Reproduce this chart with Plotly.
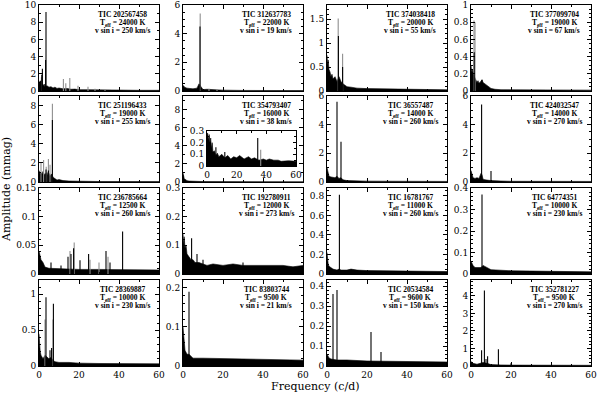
import plotly.graph_objects as go

# panel metadata, row-major order
TIC_IDS = ["202567458", "312637783", "374038418", "377099704",
           "251196433", "354793407", "36557487", "424032547",
           "236785664", "192780911", "16781767", "64774351",
           "28369887", "83803744", "20534584", "352781227"]
TEFF = [24000, 22000, 20000, 19000, 19000, 16000, 14000, 14000,
        12500, 12000, 11000, 10000, 10000, 9500, 9600, 9500]
VSINI = [250, 19, 55, 67, 255, 38, 260, 270, 260, 273, 260, 230, 230, 21, 150, 270]
Y_MAX = [10, 6, 1.8, 1, 9, 9.5, 6, 6, 0.15, 0.3, 0.88, 0.4, 1.2, 0.22, 0.43, 4.9]
Y_DTICK = [2, 2, 0.5, 0.2, 2, 2, 2, 2, 0.05, 0.1, 0.2, 0.1, 0.5, 0.1, 0.1, 1]
Y_MINOR = [1, 0.5, 0.1, 0.05, 1, 1, 0.5, 0.5, 0.01, 0.02, 0.05, 0.02, 0.1, 0.02, 0.02, 0.2]
X_TICKS = [0, 20, 40, 60]

# noise floor (frequency c/d, amplitude mmag) and peaks
p01_noise_f = [0, 0.3, 0.6, 1.0, 1.4, 2.0, 2.6, 3.0, 4.0, 5.0, 6.0, 7.0, 8.0, 9.0, 10, 12, 14, 16, 18, 20, 25, 30, 35, 40, 50, 60]
p01_noise_a = [1.2, 0.9, 1.0, 0.7, 0.9, 0.6, 0.8, 0.5, 0.6, 0.45, 0.5, 0.35, 0.45, 0.3, 0.35, 0.25, 0.3, 0.2, 0.22, 0.15, 0.15, 0.12, 0.1, 0.1, 0.08, 0.08]
p01_peak_f = [3.5, 3.3, 1.7, 1.4, 0.8]
p01_peak_a = [9.2, 3.6, 2.6, 1.9, 1.2]
p01_gray_f = [1.2, 12.2, 13.4, 15.4, 19.5, 24.5, 28, 33]
p01_gray_a = [1.6, 1.4, 0.9, 1.5, 0.6, 0.5, 0.25, 0.15]

p02_noise_f = [0, 0.5, 1, 2, 3, 5, 7, 8, 9, 10, 12, 15, 20, 30, 60]
p02_noise_a = [0.4, 0.3, 0.25, 0.2, 0.18, 0.15, 0.2, 0.5, 0.3, 0.1, 0.12, 0.08, 0.06, 0.04, 0.03]
p02_peak_f = [8.5]
p02_peak_a = [4.5]
p02_gray_f = [8.6, 13, 17]
p02_gray_a = [5.4, 0.15, 0.12]

p03_noise_f = [0, 0.3, 0.6, 1, 1.5, 2, 2.5, 3, 4, 5, 6, 7, 8, 9, 10, 12, 15, 20, 30, 40, 60]
p03_noise_a = [0.75, 0.55, 0.65, 0.45, 0.4, 0.3, 0.35, 0.25, 0.3, 0.2, 0.3, 0.2, 0.15, 0.12, 0.09, 0.08, 0.06, 0.05, 0.04, 0.03, 0.025]
p03_peak_f = [5.7, 7.8]
p03_peak_a = [1.15, 0.5]
p03_gray_f = [5.6, 7.8]
p03_gray_a = [1.52, 0.78]

p04_noise_f = [0, 0.3, 0.6, 1, 1.5, 2, 2.5, 3, 3.5, 4, 4.5, 5, 5.5, 6, 7, 8, 9, 10, 12, 15, 60]
p04_noise_a = [0.3, 0.22, 0.25, 0.2, 0.18, 0.15, 0.12, 0.1, 0.12, 0.09, 0.1, 0.12, 0.13, 0.1, 0.08, 0.06, 0.04, 0.03, 0.02, 0.015, 0.01]
p04_peak_f = [1.6, 5.5]
p04_peak_a = [0.45, 0.13]
p04_gray_f = [1.5, 2.0]
p04_gray_a = [0.82, 0.8]

p05_noise_f = [0, 0.5, 1, 1.5, 2, 2.5, 3, 3.5, 4, 4.5, 5, 5.5, 6, 6.5, 7, 8, 9, 10, 12, 15, 20, 30, 60]
p05_noise_a = [1.2, 0.9, 1.0, 0.8, 1.1, 0.7, 0.9, 0.8, 1.0, 0.7, 0.9, 0.6, 0.8, 0.8, 0.5, 0.3, 0.2, 0.25, 0.15, 0.1, 0.08, 0.05, 0.04]
p05_peak_f = [6.7, 3.5, 4.7]
p05_peak_a = [6.5, 1.3, 1.2]
p05_gray_f = [6.7, 1.0, 2.3, 3.6, 4.7, 5.5]
p05_gray_a = [8.2, 2.0, 2.3, 1.6, 2.4, 1.8]

p06_noise_f = [0, 0.3, 0.6, 1, 1.5, 2, 3, 5, 10, 60]
p06_noise_a = [1.0, 0.6, 0.4, 0.3, 0.2, 0.15, 0.1, 0.07, 0.05, 0.03]
p06_peak_f = [0.1]
p06_peak_a = [0.75]
p06_gray_f = []
p06_gray_a = []

# inset of TIC 354793407
inset_noise_f = [0, 0.5, 1, 1.5, 2, 2.5, 3, 3.5, 4, 5, 6, 7, 8, 10, 12, 14, 16, 18, 20, 22, 25, 28, 30, 32, 35, 38, 40, 42, 45, 48, 50, 55, 60]
inset_noise_a = [0.28, 0.28, 0.22, 0.27, 0.2, 0.24, 0.15, 0.2, 0.12, 0.13, 0.09, 0.11, 0.08, 0.1, 0.07, 0.09, 0.06, 0.08, 0.07, 0.09, 0.06, 0.08, 0.06, 0.07, 0.05, 0.06, 0.05, 0.06, 0.05, 0.05, 0.04, 0.045, 0.04]
inset_peak_f = [34.2, 6, 12]
inset_peak_a = [0.24, 0.16, 0.12]
inset_gray_f = [36.2]
inset_gray_a = [0.14]

p07_noise_f = [0, 0.5, 1, 2, 3, 4, 5, 6, 7, 8, 10, 15, 20, 60]
p07_noise_a = [1.0, 0.6, 0.4, 0.35, 0.3, 0.3, 0.4, 0.25, 0.3, 0.15, 0.1, 0.08, 0.06, 0.04]
p07_peak_f = [5.0, 7.0]
p07_peak_a = [5.6, 2.8]
p07_gray_f = []
p07_gray_a = []

p08_noise_f = [0, 0.5, 1, 2, 3, 4, 5, 5.5, 6, 7, 8, 10, 15, 20, 60]
p08_noise_a = [0.8, 0.5, 0.3, 0.25, 0.3, 0.25, 0.6, 0.5, 0.2, 0.15, 0.12, 0.1, 0.07, 0.05, 0.04]
p08_peak_f = [5.3, 10.0]
p08_peak_a = [5.4, 0.77]
p08_gray_f = []
p08_gray_a = []

p09_noise_f = [0, 0.5, 1, 2, 3, 5, 10, 20, 30, 40, 50, 60]
p09_noise_a = [0.04, 0.03, 0.025, 0.02, 0.012, 0.01, 0.009, 0.008, 0.008, 0.008, 0.007, 0.007]
p09_peak_f = [41.8, 17.3, 14.5, 16, 24.8, 33.5, 35.5, 20.5, 6, 11]
p09_peak_a = [0.074, 0.045, 0.03, 0.035, 0.035, 0.04, 0.02, 0.024, 0.02, 0.015]
p09_gray_f = [17.6, 15.5, 34.5, 25.5, 30]
p09_gray_a = [0.055, 0.04, 0.03, 0.025, 0.02]

p10_noise_f = [0, 0.3, 0.6, 1, 1.5, 2, 3, 4, 5, 6, 8, 10, 12, 15, 20, 25, 30, 35, 40, 45, 50, 55, 60]
p10_noise_a = [0.14, 0.1, 0.13, 0.09, 0.1, 0.07, 0.06, 0.05, 0.05, 0.04, 0.04, 0.035, 0.03, 0.035, 0.03, 0.035, 0.03, 0.03, 0.03, 0.028, 0.03, 0.025, 0.03]
p10_peak_f = [4.3, 30, 7, 10]
p10_peak_a = [0.125, 0.04, 0.07, 0.05]
p10_gray_f = []
p10_gray_a = []

p11_noise_f = [0, 0.3, 0.6, 1, 2, 3, 5, 6, 7, 10, 12, 15, 20, 30, 40, 60]
p11_noise_a = [0.22, 0.15, 0.1, 0.08, 0.06, 0.05, 0.04, 0.05, 0.04, 0.04, 0.05, 0.04, 0.035, 0.03, 0.03, 0.025]
p11_peak_f = [6.2]
p11_peak_a = [0.81]
p11_gray_f = []
p11_gray_a = []

p12_noise_f = [0, 1, 2, 5, 6, 10, 20, 60]
p12_noise_a = [0.06, 0.04, 0.03, 0.03, 0.04, 0.02, 0.015, 0.01]
p12_peak_f = [5.5]
p12_peak_a = [0.37]
p12_gray_f = []
p12_gray_a = []

p13_noise_f = [0, 0.3, 0.6, 1, 1.5, 2, 3, 4, 5, 6, 7, 8, 10, 15, 20, 30, 40, 60]
p13_noise_a = [0.45, 0.3, 0.2, 0.15, 0.12, 0.1, 0.15, 0.12, 0.1, 0.12, 0.08, 0.06, 0.05, 0.05, 0.04, 0.035, 0.03, 0.03]
p13_peak_f = [3.5, 7.2, 5.5, 6.3]
p13_peak_a = [0.96, 0.87, 0.22, 0.25]
p13_gray_f = [3.0, 7.0]
p13_gray_a = [0.65, 0.65]

p14_noise_f = [0, 0.5, 1, 2, 3, 5, 10, 60]
p14_noise_a = [0.1, 0.06, 0.04, 0.03, 0.03, 0.02, 0.02, 0.015]
p14_peak_f = [3.0]
p14_peak_a = [0.19]
p14_gray_f = []
p14_gray_a = []

p15_noise_f = [0, 1, 2, 5, 10, 20, 60]
p15_noise_a = [0.06, 0.04, 0.035, 0.03, 0.03, 0.025, 0.02]
p15_peak_f = [3.0, 5.0, 22, 27]
p15_peak_a = [0.36, 0.38, 0.17, 0.07]
p15_gray_f = []
p15_gray_a = []

p16_noise_f = [0, 1, 3, 5, 6, 8, 10, 15, 20, 60]
p16_noise_a = [0.25, 0.15, 0.1, 0.15, 0.2, 0.15, 0.08, 0.06, 0.05, 0.04]
p16_peak_f = [6.7, 5.3, 8.3, 13.7, 20, 7.5]
p16_peak_a = [4.3, 0.9, 0.55, 0.95, 0.15, 0.4]
p16_gray_f = []
p16_gray_a = []

PANELS = [
    (p01_noise_f, p01_noise_a, p01_peak_f, p01_peak_a, p01_gray_f, p01_gray_a),
    (p02_noise_f, p02_noise_a, p02_peak_f, p02_peak_a, p02_gray_f, p02_gray_a),
    (p03_noise_f, p03_noise_a, p03_peak_f, p03_peak_a, p03_gray_f, p03_gray_a),
    (p04_noise_f, p04_noise_a, p04_peak_f, p04_peak_a, p04_gray_f, p04_gray_a),
    (p05_noise_f, p05_noise_a, p05_peak_f, p05_peak_a, p05_gray_f, p05_gray_a),
    (p06_noise_f, p06_noise_a, p06_peak_f, p06_peak_a, p06_gray_f, p06_gray_a),
    (p07_noise_f, p07_noise_a, p07_peak_f, p07_peak_a, p07_gray_f, p07_gray_a),
    (p08_noise_f, p08_noise_a, p08_peak_f, p08_peak_a, p08_gray_f, p08_gray_a),
    (p09_noise_f, p09_noise_a, p09_peak_f, p09_peak_a, p09_gray_f, p09_gray_a),
    (p10_noise_f, p10_noise_a, p10_peak_f, p10_peak_a, p10_gray_f, p10_gray_a),
    (p11_noise_f, p11_noise_a, p11_peak_f, p11_peak_a, p11_gray_f, p11_gray_a),
    (p12_noise_f, p12_noise_a, p12_peak_f, p12_peak_a, p12_gray_f, p12_gray_a),
    (p13_noise_f, p13_noise_a, p13_peak_f, p13_peak_a, p13_gray_f, p13_gray_a),
    (p14_noise_f, p14_noise_a, p14_peak_f, p14_peak_a, p14_gray_f, p14_gray_a),
    (p15_noise_f, p15_noise_a, p15_peak_f, p15_peak_a, p15_gray_f, p15_gray_a),
    (p16_noise_f, p16_noise_a, p16_peak_f, p16_peak_a, p16_gray_f, p16_gray_a),
]

W, H = 598, 394
COL_LEFT = [39, 183, 327, 471]
PANEL_W = 120
ROW_TOP = [5, 96, 188, 280]
PANEL_H = 86
TICK_FONT = dict(family="DejaVu Serif", size=9, color="black")
ANN_FONT = dict(family="Liberation Serif", size=7.5, color="black")
GRAY = "#8f8f8f"


def stems(f, a):
    xs, ys = [], []
    for fi, ai in zip(f, a):
        xs += [fi, fi, None]
        ys += [0, ai, None]
    return xs, ys


def add_spectrum(fig, nf, na, pf, pa, gf, ga, xa, ya):
    fig.add_trace(go.Scatter(x=nf, y=na, mode="lines", fill="tozeroy",
                             fillcolor="black", line=dict(color="black", width=0.6),
                             xaxis=xa, yaxis=ya, hoverinfo="skip"))
    if gf:
        x, y = stems(gf, ga)
        fig.add_trace(go.Scatter(x=x, y=y, mode="lines", line=dict(color=GRAY, width=1.1),
                                 xaxis=xa, yaxis=ya, hoverinfo="skip"))
    x, y = stems(pf, pa)
    fig.add_trace(go.Scatter(x=x, y=y, mode="lines", line=dict(color="black", width=1.1),
                             xaxis=xa, yaxis=ya, hoverinfo="skip"))


def axis_style(**kw):
    base = dict(showline=True, linecolor="black", linewidth=1, mirror="ticks",
                ticks="inside", ticklen=4, tickwidth=1, tickcolor="black",
                showgrid=False, zeroline=False, automargin=False, tickfont=TICK_FONT)
    base.update(kw)
    return base


fig = go.Figure()
layout = {}
annotations = []
for i in range(16):
    r, c = divmod(i, 4)
    n = "" if i == 0 else str(i + 1)
    nf, na, pf, pa, gf, ga = PANELS[i]
    add_spectrum(fig, nf, na, pf, pa, gf, ga, "x" + n, "y" + n)
    x0 = COL_LEFT[c] / W
    x1 = (COL_LEFT[c] + PANEL_W) / W
    y1 = 1 - ROW_TOP[r] / H
    y0 = 1 - (ROW_TOP[r] + PANEL_H) / H
    layout["xaxis" + n] = axis_style(
        domain=[x0, x1], range=[0, 60], anchor="y" + n,
        tickvals=X_TICKS, showticklabels=(r == 3),
        minor=dict(dtick=10, ticks="inside", ticklen=2, tickcolor="black"))
    layout["yaxis" + n] = axis_style(
        domain=[y0, y1], range=[0, Y_MAX[i]], anchor="x" + n,
        dtick=Y_DTICK[i], tick0=0,
        minor=dict(dtick=Y_MINOR[i], ticks="inside", ticklen=2, tickcolor="black"))
    lines = ["<b>TIC %s</b>" % TIC_IDS[i],
             "<b>T<sub>eff</sub> = %d K</b>" % TEFF[i],
             "<b>v sin i = %d km/s</b>" % VSINI[i]]
    for txt, yy in zip(lines, [0.885, 0.795, 0.70]):
        annotations.append(dict(text=txt, x=0.695, y=yy, xref="x%s domain" % n,
                                yref="y%s domain" % n, showarrow=False,
                                xanchor="center", yanchor="middle", font=ANN_FONT))

# inset for TIC 354793407
add_spectrum(fig, inset_noise_f, inset_noise_a, inset_peak_f, inset_peak_a,
             inset_gray_f, inset_gray_a, "x17", "y17")
layout["xaxis17"] = axis_style(domain=[207 / W, 296 / W], range=[0, 60], anchor="y17",
                               tickvals=X_TICKS, ticklen=3,
                               minor=dict(dtick=10, ticks="inside", ticklen=2, tickcolor="black"))
layout["yaxis17"] = axis_style(domain=[1 - 166 / H, 1 - 131 / H], range=[0, 0.3], anchor="x17",
                               dtick=0.1, ticklen=3,
                               minor=dict(dtick=0.05, ticks="inside", ticklen=2, tickcolor="black"))

annotations.append(dict(text="Amplitude (mmag)", x=6 / W, y=1 - 190 / H, xref="paper", yref="paper",
                        textangle=-90, showarrow=False, xanchor="center", yanchor="middle",
                        font=dict(family="DejaVu Serif", size=11, color="black")))
annotations.append(dict(text="Frequency (c/d)", x=315 / W, y=1 - 386 / H, xref="paper", yref="paper",
                        showarrow=False, xanchor="center", yanchor="middle",
                        font=dict(family="DejaVu Serif", size=11, color="black")))

fig.update_layout(**layout)
fig.update_layout(width=W, height=H, margin=dict(l=0, r=0, t=0, b=0, pad=0),
                  paper_bgcolor="white", plot_bgcolor="white", template="none",
                  showlegend=False, annotations=annotations)
fig.write_html("out.html", config={"displayModeBar": False, "staticPlot": True},
               post_script="document.body.style.margin='0px';")
